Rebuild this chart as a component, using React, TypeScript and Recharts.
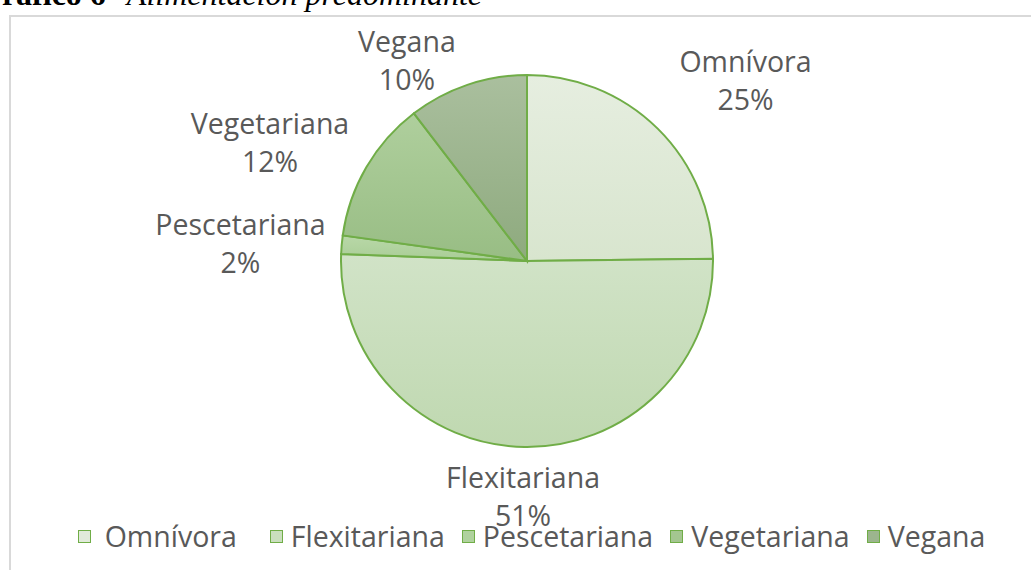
import React from 'react';
import { PieChart, Pie, Cell, Legend } from 'recharts';

const categories = ['Omnívora', 'Flexitariana', 'Pescetariana', 'Vegetariana', 'Vegana'];
const shares = [24.8, 50.8, 1.6, 12.4, 10.4];

const gradTop = ['#E6EEE0', '#D1E3C7', '#B9D8A8', '#AFCF9D', '#AABF9E'];
const gradBottom = ['#D8E5CE', '#BFD8B0', '#A9CD96', '#98BD84', '#8EAA7E'];
const legendFill = ['#E1EADA', '#CADFBE', '#B0D29E', '#A4C690', '#9CB58E'];

// label placement relative to each slice's mid angle (degrees) and radius (px)
const labelShift = [
  { da: -5.9, r: 283 },
  { da: -0.25, r: 236 },
  { da: 1.65, r: 287 },
  { da: 5.5, r: 283 },
  { da: 12.3, r: 233 },
];

// legend spacing: [marker-to-text gap, gap after item]
const legendGap = [
  [14, 33],
  [8, 17],
  [8, 17],
  [8, 17],
  [8, 0],
];

const data = categories.map((name, i) => ({ name, value: shares[i] }));

const FONT = "'Open Sans', 'Noto Sans', sans-serif";
const FS = 28.5;
const TEXT = '#595959';
const STROKE = '#70AD47';

const renderLabel = (props: any) => {
  const { cx, cy, midAngle, percent, index } = props;
  const s = labelShift[index];
  const a = ((midAngle + s.da) * Math.PI) / 180;
  const x = cx + s.r * Math.cos(a);
  const y = cy - s.r * Math.sin(a);
  return (
    <text x={x} y={y} textAnchor="middle" fill={TEXT} fontFamily={FONT} fontSize={FS}>
      <tspan x={x} y={y - 9}>{categories[index]}</tspan>
      <tspan x={x} y={y + 29}>{`${Math.round(percent * 100)}%`}</tspan>
    </text>
  );
};

const renderLegend = () => (
  <div
    style={{
      display: 'flex',
      justifyContent: 'center',
      alignItems: 'center',
      fontFamily: FONT,
      fontSize: FS,
      color: TEXT,
      lineHeight: '36px',
    }}
  >
    {categories.map((c, i) => (
      <div key={c} style={{ display: 'flex', alignItems: 'center', marginRight: legendGap[i][1] }}>
        <span
          style={{
            display: 'inline-block',
            width: 11,
            height: 11,
            background: legendFill[i],
            border: `1.5px solid ${STROKE}`,
            marginRight: legendGap[i][0],
          }}
        />
        <span>{c}</span>
      </div>
    ))}
  </div>
);

export default function App() {
  return (
    <div style={{ position: 'fixed', left: 0, top: 0, width: 1031, height: 570, background: '#fff', overflow: 'hidden' }}>
      <svg width={1031} height={20} style={{ position: 'absolute', left: 0, top: 0 }}>
        <text x={-23} y={5} fontFamily="'Liberation Serif', 'Times New Roman', serif" fontSize={32} fill="#000">
          <tspan fontWeight="bold">Gráfico 6</tspan>
          <tspan fontStyle="italic" dx={21}>Alimentación predominante</tspan>
        </text>
      </svg>
      <div
        style={{
          position: 'absolute',
          left: 9,
          top: 15,
          width: 1100,
          height: 700,
          border: '2px solid #D9D9D9',
          boxSizing: 'border-box',
        }}
      />
      <div style={{ position: 'absolute', left: 0, top: 0 }}>
        <PieChart width={1031} height={570} margin={{ top: 0, right: 0, bottom: 0, left: 0 }}>
          <defs>
            {categories.map((c, i) => (
              <linearGradient key={c} id={`grad${i}`} x1="0" y1="0" x2="0" y2="1">
                <stop offset="0%" stopColor={gradTop[i]} />
                <stop offset="100%" stopColor={gradBottom[i]} />
              </linearGradient>
            ))}
          </defs>
          <Pie
            data={data}
            dataKey="value"
            nameKey="name"
            cx={527}
            cy={261}
            outerRadius={186}
            startAngle={90}
            endAngle={-270}
            stroke={STROKE}
            strokeWidth={2}
            label={renderLabel}
            labelLine={false}
            isAnimationActive={false}
          >
            {data.map((d, i) => (
              <Cell key={d.name} fill={`url(#grad${i})`} stroke={STROKE} strokeWidth={2} />
            ))}
          </Pie>
          <Legend content={renderLegend} wrapperStyle={{ left: 16, top: 518, width: 1031 }} />
        </PieChart>
      </div>
    </div>
  );
}
